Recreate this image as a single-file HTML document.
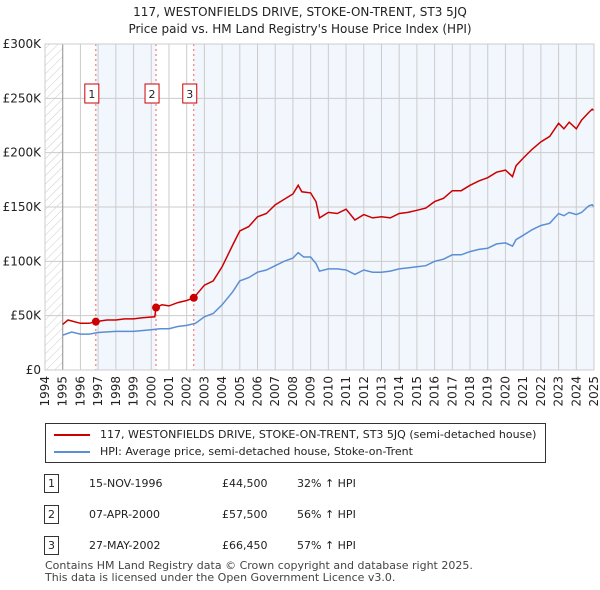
<!DOCTYPE html>
<html><head><meta charset="utf-8"><style>
body{margin:0;background:#fff;font-family:"DejaVu Sans","Liberation Sans",sans-serif;}
#wrap{position:relative;width:600px;height:590px;overflow:hidden;}
.t{position:absolute;font-size:11px;color:#222;white-space:nowrap;}
</style></head><body><div id="wrap">
<div class="t" style="left:0;width:600px;text-align:center;top:4px;font-size:12px;line-height:17px;">117, WESTONFIELDS DRIVE, STOKE-ON-TRENT, ST3 5JQ<br>Price paid vs. HM Land Registry's House Price Index (HPI)</div>
<svg id="chart" width="600" height="420" style="position:absolute;left:0;top:0">
<defs><pattern id="hatch" width="6" height="6" patternUnits="userSpaceOnUse" patternTransform="rotate(45)"><line x1="0" y1="0" x2="0" y2="6" stroke="#ccc" stroke-width="1"/></pattern></defs>
</svg>
<div style="position:absolute;left:45px;top:423px;width:499px;height:38px;border:1px solid #333;">
<div style="position:absolute;left:8px;top:10px;width:36px;border-top:2px solid #cc0000"></div>
<div class="t" style="left:54px;top:4px">117, WESTONFIELDS DRIVE, STOKE-ON-TRENT, ST3 5JQ (semi-detached house)</div>
<div style="position:absolute;left:8px;top:27px;width:36px;border-top:2px solid #5b8fd4"></div>
<div class="t" style="left:54px;top:21px">HPI: Average price, semi-detached house, Stoke-on-Trent</div>
</div>
<div id="rows"></div>
<div class="t" style="left:45px;top:560px;line-height:12px;color:#444">Contains HM Land Registry data © Crown copyright and database right 2025.<br>This data is licensed under the Open Government Licence v3.0.</div>
</div>
<script>
const hpiYears=[1995,1995.5,1996,1996.5,1997,1998,1999,2000,2000.5,2001,2001.5,2002,2002.5,2003,2003.5,2004,2004.3,2004.6,2005,2005.5,2006,2006.5,2007,2007.5,2008,2008.3,2008.6,2009,2009.3,2009.5,2010,2010.5,2011,2011.5,2012,2012.5,2013,2013.5,2014,2014.5,2015,2015.5,2016,2016.5,2017,2017.5,2018,2018.5,2019,2019.5,2020,2020.4,2020.6,2021,2021.5,2022,2022.5,2023,2023.3,2023.6,2024,2024.3,2024.7,2024.9,2025];
const hpiValues=[32,35,33,33,34.5,35.5,35.5,37,38,38,40,41,43,49,52,60,66,72,82,85,90,92,96,100,103,108,104,104,98,91,93,93,92,88,92,90,90,91,93,94,95,96,100,102,106,106,109,111,112,116,117,114,120,124,129,133,135,144,142,145,143,145,151,152,150];
const priceYears=[1995,1995.3,1996,1996.5,1996.87,1997.5,1998,1998.5,1999,1999.5,2000.2,2000.27,2000.6,2001,2001.5,2002,2002.4,2003,2003.5,2004,2004.3,2004.6,2005,2005.5,2006,2006.5,2007,2007.5,2008,2008.3,2008.5,2009,2009.3,2009.5,2010,2010.5,2011,2011.5,2012,2012.5,2013,2013.5,2014,2014.5,2015,2015.5,2016,2016.5,2017,2017.5,2018,2018.5,2019,2019.5,2020,2020.4,2020.6,2021,2021.5,2022,2022.5,2023,2023.3,2023.6,2024,2024.3,2024.7,2024.9,2025];
const priceValues=[42,46,43,43,44.5,46,46,47,47,48,49,57.5,60,59,62,64,66.45,78,82,95,105,115,128,132,141,144,152,157,162,170,164,163,155,140,145,144,148,138,143,140,141,140,144,145,147,149,155,158,165,165,170,174,177,182,184,178,188,195,203,210,215,227,222,228,222,230,237,240,239];
const saleLabels=["1","2","3"];
const saleDates=[1996.87,2000.27,2002.4];
const salePrices=[44.5,57.5,66.45];
const saleDateText=["15-NOV-1996","07-APR-2000","27-MAY-2002"];
const salePriceText=["£44,500","£57,500","£66,450"];
const saleHpiText=["32% ↑ HPI","56% ↑ HPI","57% ↑ HPI"];
const yTicks=[0,50,100,150,200,250,300];
const yTickLabels=["£0","£50K","£100K","£150K","£200K","£250K","£300K"];
const xTicks=[1994,1995,1996,1997,1998,1999,2000,2001,2002,2003,2004,2005,2006,2007,2008,2009,2010,2011,2012,2013,2014,2015,2016,2017,2018,2019,2020,2021,2022,2023,2024,2025];

const L=45,R=594,T=44,B=370;
const FF='DejaVu Sans, Liberation Sans, sans-serif';
const x=v=>L+(v-1994)/(2025-1994)*(R-L);
const y=v=>B-v/300*(B-T);
const svg=document.getElementById('chart');
const NS='http://www.w3.org/2000/svg';
function mk(tag,attrs,parent){const e=document.createElementNS(NS,tag);for(const k in attrs)e.setAttribute(k,attrs[k]);(parent||svg).appendChild(e);return e;}
let e;
e=mk('rect',{x:L,y:T,width:R-L,height:B-T,fill:'#fff'});


e=mk('rect',{x:x(saleDates[0]),y:T,width:x(saleDates[1])-x(saleDates[0]),height:B-T,fill:'#f2f6fd'});


e=mk('rect',{x:x(saleDates[2]),y:T,width:x(2025)-x(saleDates[2]),height:B-T,fill:'#f2f6fd'});


e=mk('rect',{x:L,y:T,width:x(1995)-L,height:B-T,fill:'url(#hatch)'});


xTicks.forEach(t=>{e=mk('line',{x1:x(t),x2:x(t),y1:T,y2:B,stroke:'#ccc','stroke-width':1});


e=mk('text',{x:0,y:0,transform:`translate(${x(t)+4},${B+6}) rotate(-90)`,'text-anchor':'end','font-size':12,fill:'#222','font-family':FF});e.textContent=t;

});
yTicks.forEach((t,i)=>{e=mk('line',{x1:L,x2:R,y1:y(t),y2:y(t),stroke:'#ccc','stroke-width':1});


e=mk('text',{x:L-4,y:y(t)+4,'text-anchor':'end','font-size':12,fill:'#222','font-family':FF});e.textContent=yTickLabels[i];

});
e=mk('line',{x1:x(1995),x2:x(1995),y1:T,y2:B,stroke:'#999'});


saleDates.forEach((d,i)=>{e=mk('line',{x1:x(d),x2:x(d),y1:T,y2:B,stroke:'#f06060','stroke-dasharray':'2,3'});


e=mk('rect',{x:x(d)-11,y:84,width:14,height:19,fill:'#fff',stroke:'#cc0000'});


e=mk('text',{x:x(d)-4,y:98,'text-anchor':'middle','font-size':11,fill:'#222','font-family':FF});e.textContent=saleLabels[i];

});
const pts=(xs,vs)=>xs.map((d,i)=>x(d).toFixed(1)+','+y(vs[i]).toFixed(1)).join(' ');
e=mk('polyline',{points:pts(hpiYears,hpiValues),fill:'none',stroke:'#5b8fd4','stroke-width':1.5});


e=mk('polyline',{points:pts(priceYears,priceValues),fill:'none',stroke:'#cc0000','stroke-width':1.5});


saleDates.forEach((d,i)=>{e=mk('circle',{cx:x(d),cy:y(salePrices[i]),r:4,fill:'#cc0000'});

});
e=mk('rect',{x:L,y:T,width:R-L,height:B-T,fill:'none',stroke:'#ccc'});


const rows=document.getElementById('rows');
saleLabels.forEach((l,i)=>{const top=474+i*31;
const r=document.createElement('div');r.style.cssText=`position:absolute;left:0;top:${top}px;width:600px;height:20px`;


r.innerHTML=`<div class="t" style="left:44px;top:0;width:13px;height:17px;border:1px solid #333;text-align:center;line-height:17px">${l}</div><div class="t" style="left:89px;top:3px">${saleDateText[i]}</div><div class="t" style="left:222px;top:3px">${salePriceText[i]}</div><div class="t" style="left:297px;top:3px">${saleHpiText[i]}</div>`;
rows.appendChild(r);});
</script></body></html>
